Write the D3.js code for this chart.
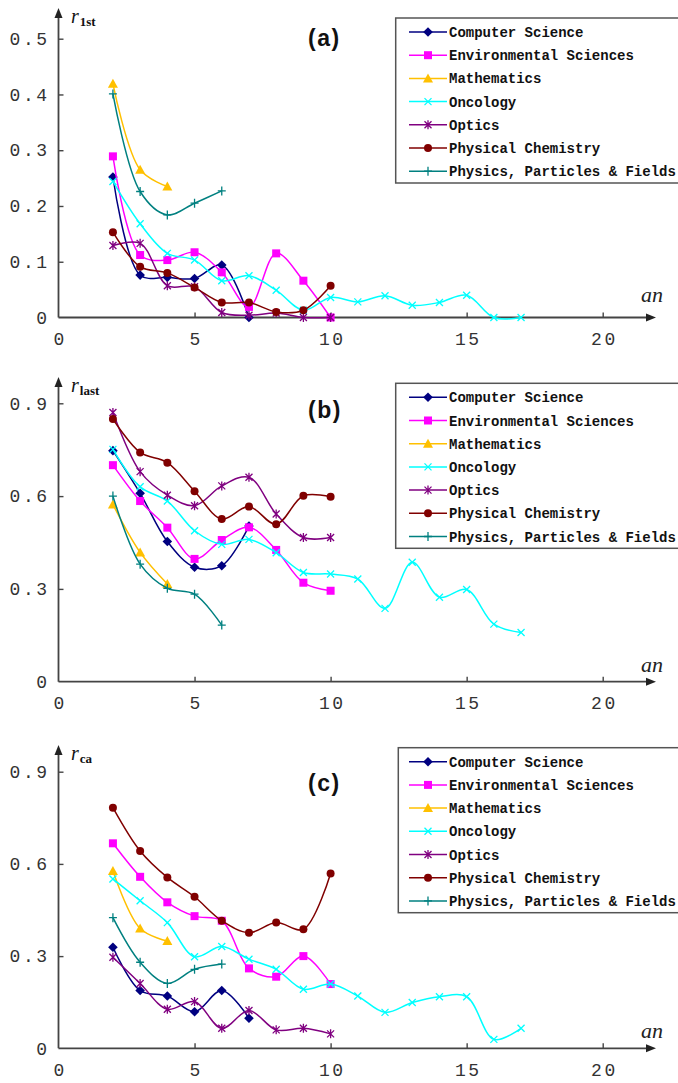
<!DOCTYPE html>
<html>
<head>
  <meta charset="utf-8" />
  <title>r vs an by field</title>
  <style type="text/css">
    body { margin: 0; background: #fff; }
    svg { display: block; }
    .tick text { font-family: 'Liberation Mono', monospace; font-size: 18px; fill: #333; letter-spacing: 2.5px; }
    .tick line { stroke: #444; stroke-width: 1.4; }
    .legend text { font-family: 'Liberation Mono', monospace; font-size: 14px; font-weight: bold; fill: #111; }
  </style>
  <script src="https://d3js.org/d3.v7.min.js"></script>
</head>
<body>
<div id="chart"></div>
<script>
// x values (an) shared by all series; each series starts at an = 2
var an = [2, 3, 4, 5, 6, 7, 8, 9, 10, 11, 12, 13, 14, 15, 16, 17];

var fields = ['Computer Science', 'Environmental Sciences', 'Mathematics', 'Oncology',
  'Optics', 'Physical Chemistry', 'Physics, Particles & Fields'];

// (a) r_1st
var r1stCS   = [0.252, 0.076, 0.072, 0.070, 0.094, 0.0];
var r1stEnv  = [0.289, 0.112, 0.103, 0.117, 0.081, 0.019, 0.115, 0.066, 0.0];
var r1stMath = [0.419, 0.265, 0.235];
var r1stOnc  = [0.244, 0.168, 0.115, 0.103, 0.066, 0.075, 0.049, 0.013, 0.036, 0.028, 0.039, 0.022, 0.027, 0.040, 0.0, 0.0];
var r1stOpt  = [0.129, 0.133, 0.057, 0.055, 0.009, 0.004, 0.008, 0.0, 0.0];
var r1stPC   = [0.153, 0.091, 0.080, 0.054, 0.027, 0.027, 0.010, 0.013, 0.057];
var r1stPhy  = [0.401, 0.226, 0.184, 0.205, 0.227];

// (b) r_last
var rlastCS   = [0.747, 0.609, 0.453, 0.370, 0.375, 0.503];
var rlastEnv  = [0.700, 0.584, 0.498, 0.397, 0.458, 0.499, 0.426, 0.320, 0.294];
var rlastMath = [0.573, 0.418, 0.316];
var rlastOnc  = [0.751, 0.630, 0.584, 0.488, 0.444, 0.460, 0.417, 0.353, 0.348, 0.332, 0.237, 0.386, 0.273, 0.298, 0.186, 0.159];
var rlastOpt  = [0.870, 0.679, 0.603, 0.569, 0.633, 0.661, 0.542, 0.466, 0.466];
var rlastPC   = [0.849, 0.741, 0.708, 0.616, 0.526, 0.566, 0.509, 0.601, 0.598];
var rlastPhy  = [0.600, 0.380, 0.302, 0.283, 0.183];

// (c) r_ca
var rcaCS   = [0.329, 0.188, 0.170, 0.119, 0.188, 0.098];
var rcaEnv  = [0.667, 0.558, 0.475, 0.430, 0.415, 0.260, 0.233, 0.300, 0.209];
var rcaMath = [0.577, 0.390, 0.349];
var rcaOnc  = [0.551, 0.480, 0.409, 0.298, 0.331, 0.290, 0.257, 0.192, 0.209, 0.170, 0.117, 0.149, 0.168, 0.168, 0.029, 0.065];
var rcaOpt  = [0.296, 0.211, 0.127, 0.152, 0.065, 0.123, 0.060, 0.065, 0.047];
var rcaPC   = [0.783, 0.642, 0.556, 0.493, 0.415, 0.376, 0.409, 0.387, 0.569];
var rcaPhy  = [0.425, 0.280, 0.211, 0.257, 0.274];

var xTicks = [0, 5, 10, 15, 20];
var yTicksA = [0, 0.1, 0.2, 0.3, 0.4, 0.5];
var yTicksBC = [0, 0.3, 0.6, 0.9];

var colors = ['#000080', '#ff00ff', '#ffc000', '#00ffff', '#800080', '#800000', '#008080'];
var markers = ['diamond', 'square', 'triangle', 'x', 'star', 'circle', 'plus'];

var panels = [
  { label: '(a)', sub: '1st', series: [r1stCS, r1stEnv, r1stMath, r1stOnc, r1stOpt, r1stPC, r1stPhy],
    ticks: yTicksA, yMax: 0.5, y0: 317.5, yTop: 38.7, arrowTop: 8, legTop: 18, legLeft: 395.7, labY: 45.5, anY: 302 },
  { label: '(b)', sub: 'last', series: [rlastCS, rlastEnv, rlastMath, rlastOnc, rlastOpt, rlastPC, rlastPhy],
    ticks: yTicksBC, yMax: 0.9, y0: 681.7, yTop: 403.3, arrowTop: 377, legTop: 383.3, legLeft: 395.7, labY: 417.5, anY: 672 },
  { label: '(c)', sub: 'ca', series: [rcaCS, rcaEnv, rcaMath, rcaOnc, rcaOpt, rcaPC, rcaPhy],
    ticks: yTicksBC, yMax: 0.9, y0: 1048.3, yTop: 771.7, arrowTop: 745, legTop: 747.7, legLeft: 398.3, labY: 790.5, anY: 1038 }
];

var svg = d3.select('#chart').append('svg').attr('width', 678).attr('height', 1083);

var x = d3.scaleLinear().domain([0, 20]).range([58.5, 602.7]);
var axisColor = '#444';

// draw one marker of given type at (0,0)
function drawMarker(g, type, color) {
  if (type === 'diamond') {
    g.append('path').attr('d', 'M0,-4.8L4.8,0L0,4.8L-4.8,0Z').attr('fill', color);
  } else if (type === 'square') {
    g.append('rect').attr('x', -4).attr('y', -4).attr('width', 8).attr('height', 8).attr('fill', color);
  } else if (type === 'triangle') {
    g.append('path').attr('d', 'M0,-5L5,4L-5,4Z').attr('fill', color);
  } else if (type === 'circle') {
    g.append('circle').attr('r', 4).attr('fill', color);
  } else if (type === 'x') {
    g.append('path').attr('d', 'M-3.5,-3.5L3.5,3.5M-3.5,3.5L3.5,-3.5')
      .attr('stroke', color).attr('stroke-width', 1.3).attr('fill', 'none');
  } else if (type === 'star') {
    g.append('path').attr('d', 'M-3.5,-3.5L3.5,3.5M-3.5,3.5L3.5,-3.5M0,-4.5L0,4.5')
      .attr('stroke', color).attr('stroke-width', 1.3).attr('fill', 'none');
  } else if (type === 'plus') {
    g.append('path').attr('d', 'M-4,0L4,0M0,-4.5L0,4.5')
      .attr('stroke', color).attr('stroke-width', 1.3).attr('fill', 'none');
  }
}

panels.forEach(function (p) {
  var y = d3.scaleLinear().domain([0, p.yMax]).range([p.y0, p.yTop]);
  var g = svg.append('g');

  // axes, ticks pointing inward
  var xAxis = g.append('g').attr('transform', 'translate(0,' + p.y0 + ')')
    .call(d3.axisBottom(x).tickValues(xTicks).tickSize(-5).tickPadding(15).tickFormat(d3.format('d')));
  xAxis.select('.domain').remove();
  xAxis.selectAll('.tick').filter(function (d) { return d === 0; }).select('line').remove();
  xAxis.selectAll('.tick text').attr('dx', '1.2px');

  var yAxis = g.append('g').attr('transform', 'translate(' + x(0) + ',0)')
    .call(d3.axisLeft(y).tickValues(p.ticks).tickSize(-5).tickPadding(9)
      .tickFormat(function (d) { return d === 0 ? '0' : d3.format('.1f')(d); }));
  yAxis.select('.domain').remove();
  yAxis.selectAll('.tick').filter(function (d) { return d === 0; }).select('line').remove();

  // axis lines with arrow heads
  g.append('line').attr('x1', x(0)).attr('x2', 650).attr('y1', p.y0).attr('y2', p.y0)
    .attr('stroke', axisColor).attr('stroke-width', 1.8);
  g.append('path').attr('d', 'M656,' + p.y0 + 'L646,' + (p.y0 - 4) + 'L646,' + (p.y0 + 4) + 'Z').attr('fill', '#222');
  g.append('line').attr('x1', x(0)).attr('x2', x(0)).attr('y1', p.y0).attr('y2', p.arrowTop + 6)
    .attr('stroke', axisColor).attr('stroke-width', 1.8);
  g.append('path').attr('d', 'M' + x(0) + ',' + p.arrowTop + 'L' + (x(0) - 4) + ',' + (p.arrowTop + 10) +
    'L' + (x(0) + 4) + ',' + (p.arrowTop + 10) + 'Z').attr('fill', '#222');

  // axis titles
  var yl = g.append('text').attr('x', 71).attr('y', p.arrowTop + 14.5)
    .style('font-family', "'Liberation Serif', serif").attr('fill', '#111');
  yl.append('tspan').text('r').style('font-style', 'italic').style('font-size', '20px');
  yl.append('tspan').text(p.sub).attr('dx', 1).attr('dy', 3).style('font-size', '13px').style('font-weight', 'bold');

  g.append('text').attr('x', 641).attr('y', p.anY).text('an')
    .style('font-family', "'Liberation Serif', serif").style('font-style', 'italic')
    .style('font-size', '22px').attr('fill', '#222');

  g.append('text').attr('x', 308).attr('y', p.labY).text(p.label)
    .style('font-family', "'Liberation Sans', Arial, sans-serif").style('font-weight', 'bold')
    .style('font-size', '23px').style('letter-spacing', '1.5px').attr('fill', '#111');

  // series
  var line = d3.line()
    .x(function (d, i) { return x(an[i]); })
    .y(function (d) { return y(d); })
    .curve(d3.curveCatmullRom.alpha(0.5));

  p.series.forEach(function (vals, k) {
    g.append('path').attr('d', line(vals)).attr('fill', 'none')
      .attr('stroke', colors[k]).attr('stroke-width', 1.5);
    vals.forEach(function (v, i) {
      var m = g.append('g').attr('transform', 'translate(' + x(an[i]) + ',' + y(v) + ')');
      drawMarker(m, markers[k], colors[k]);
    });
  });

  // legend
  var leg = g.append('g').attr('class', 'legend');
  leg.append('rect').attr('x', p.legLeft).attr('y', p.legTop).attr('width', 300).attr('height', 165)
    .attr('fill', '#fff').attr('stroke', '#555').attr('stroke-width', 1.5);
  fields.forEach(function (name, k) {
    var ry = p.legTop + 14 + k * 23.2;
    leg.append('line').attr('x1', 409).attr('x2', 447).attr('y1', ry).attr('y2', ry)
      .attr('stroke', colors[k]).attr('stroke-width', 1.5);
    var m = leg.append('g').attr('transform', 'translate(428,' + ry + ')');
    drawMarker(m, markers[k], colors[k]);
    leg.append('text').attr('x', 449).attr('y', ry + 5).text(name);
  });
});
</script>
</body>
</html>
